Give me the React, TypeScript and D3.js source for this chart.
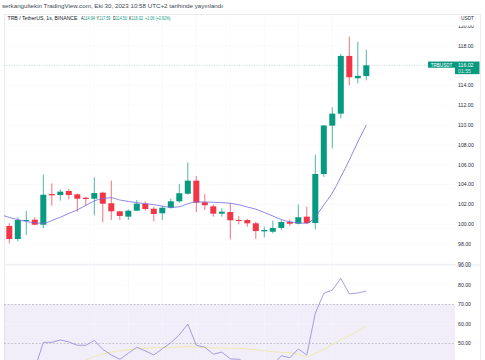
import React from "react";
import * as d3 from "d3";

// ---- DATA ----
const candleOpen = [99.83, 98.52, 100.33, 100.46, 99.96, 103.05, 102.95, 103.36, 103.02, 102.68, 102.58, 103.19, 102.12, 101.31, 100.77, 101.37, 102.08, 101.57, 101.11, 101.67, 102.32, 103.08, 104.40, 102.22, 101.81, 101.07, 101.24, 100.43, 100.43, 100.10, 99.29, 99.25, 99.63, 100.23, 100.06, 100.77, 100.13, 105.07, 109.94, 111.15, 116.97, 114.72, 114.94];
const candleHigh = [100.10, 100.71, 101.37, 100.71, 105.00, 104.13, 103.53, 103.59, 103.12, 102.78, 104.74, 103.29, 104.40, 101.37, 101.51, 102.45, 102.32, 101.77, 101.84, 102.58, 104.06, 106.25, 104.87, 103.05, 101.98, 101.61, 102.12, 100.84, 100.56, 100.26, 99.76, 100.36, 100.43, 100.50, 101.98, 101.77, 107.02, 110.00, 111.79, 117.17, 118.91, 118.38, 117.59];
const candleLow = [98.08, 98.29, 98.92, 99.90, 99.60, 101.88, 102.38, 102.52, 101.27, 101.85, 100.91, 100.20, 100.43, 100.43, 100.43, 101.37, 101.37, 100.30, 100.43, 101.57, 102.18, 102.98, 101.24, 101.44, 100.77, 100.77, 98.49, 100.00, 99.76, 98.52, 98.69, 99.09, 99.43, 99.83, 100.00, 100.03, 99.50, 104.77, 107.66, 110.69, 114.01, 114.21, 114.50];
const candleClose = [98.52, 100.43, 100.43, 99.96, 102.98, 102.92, 103.29, 102.95, 102.58, 102.55, 103.15, 102.08, 101.31, 100.84, 101.37, 102.08, 101.54, 101.04, 101.67, 102.32, 103.13, 104.40, 102.18, 101.92, 101.07, 101.27, 100.40, 100.33, 100.10, 99.32, 99.43, 99.63, 100.23, 100.06, 100.71, 100.13, 105.07, 109.96, 111.15, 116.97, 114.82, 114.96, 116.02];

// moving average, first value belongs to bar index -1 (off the left edge)
const maStartIndex = -1;
const maValues = [100.99, 100.69, 100.48, 100.28, 100.15, 100.10, 100.38, 100.71, 101.09, 101.46, 101.90, 102.35, 102.60, 102.67, 102.45, 102.30, 102.18, 102.08, 101.98, 101.84, 101.71, 101.77, 102.07, 102.25, 102.25, 102.22, 102.18, 102.12, 101.97, 101.74, 101.52, 101.19, 100.84, 100.48, 100.26, 100.15, 100.10, 100.79, 101.95, 103.16, 104.77, 106.48, 108.30, 110.01];

const rsiValues = [32, 38, 39, 37, 50.6, 50.6, 51.8, 50.8, 49.1, 49.1, 51.6, 47.0, 44.1, 41.9, 45.0, 48.1, 46.2, 44.1, 47.3, 50.4, 54.4, 60.0, 49.1, 48.1, 44.5, 45.6, 42.1, 41.9, 40, 36, 36, 39, 43.7, 42.7, 47.2, 44.1, 65.5, 75.7, 77.4, 83.4, 75.4, 75.9, 76.9];
const rsiMaStartIndex = 8;
const rsiMaValues = [38, 41.3, 43.3, 44.6, 45.6, 46.3, 46.8, 47.2, 47.6, 47.8, 48.0, 48.1, 48.2, 48.4, 48.2, 47.9, 47.8, 47.7, 47.6, 47.5, 47.2, 46.8, 46.3, 45.8, 45.5, 45.2, 44.6, 43.2, 44.9, 46.9, 49.5, 51.8, 54.1, 56.4, 59.0];

const priceTicks = [96, 98, 100, 102, 104, 106, 108, 110, 112, 114, 116, 118, 120];
const rsiTicks = [90, 80, 70, 60, 50];
const rsiBands = [70, 50, 30];

const titleText = "serkangultekin TradingView.com, Eki 30, 2023 10:58 UTC+2 tarihinde yayınlandı";
const symbolText = "TRB / TetherUS, 1s, BINANCE";
const ohlcLabels = ["A", "Y", "D", "K"];
const ohlcTexts = ["114.94", "117.59", "114.50", "116.02"];
const changeText = "+1.06 (+0.92%)";
const lastPrice = 116.02;
const lastPriceText = "116.02";
const countdownText = "01:55";
const tickerText = "TRBUSDT";
const currencyText = "USDT";

const UP = "#089981";
const DOWN = "#f23645";
const FONT = "'Liberation Sans', Arial, sans-serif";

export default function App() {
  const frameL = 4, frameR = 480, frameT = 14, paneSplit = 265, plotR = 455, H = 360;
  const x = d3.scaleLinear().domain([0, 42]).range([9.3, 366.3]);
  const y = d3.scaleLinear().domain([100, 118]).range([224.3, 45.7]);
  const yr = d3.scaleLinear().domain([50, 80]).range([343.5, 285]);
  const bodyW = 6;

  const maLine = d3
    .line<number>()
    .x((_, i) => x(i + maStartIndex))
    .y((d) => y(d))
    .curve(d3.curveMonotoneX)(maValues) as string;
  const rsiLine = d3
    .line<number>()
    .x((_, i) => x(i))
    .y((d) => yr(d))(rsiValues) as string;
  const rsiMaLine = d3
    .line<number>()
    .x((_, i) => x(i + rsiMaStartIndex))
    .y((d) => yr(d))
    .curve(d3.curveMonotoneX)(rsiMaValues) as string;

  // header x positions
  const ohlcX = [81, 96.5, 113, 129];

  return (
    <svg
      width={485}
      height={360}
      style={{ position: "absolute", left: 0, top: 0, background: "#fff" }}
      fontFamily={FONT}
    >
      <defs>
        <clipPath id="mainClip">
          <rect x={frameL} y={frameT} width={plotR - frameL} height={paneSplit - frameT} />
        </clipPath>
        <clipPath id="rsiClip">
          <rect x={frameL} y={paneSplit} width={plotR - frameL} height={H - paneSplit} />
        </clipPath>
        <clipPath id="mainAxisClip">
          <rect x={plotR} y={25.5} width={frameR - plotR} height={paneSplit - 25.5} />
        </clipPath>
        <clipPath id="rsiAxisClip">
          <rect x={plotR} y={paneSplit} width={frameR - plotR} height={H - paneSplit} />
        </clipPath>
      </defs>
      <rect x={0} y={0} width={485} height={360} fill="#fff" />

      {/* title */}
      <text x={2} y={8.4} fontSize={6} fill="#434651" textLength={221} lengthAdjust="spacingAndGlyphs">{titleText}</text>

      {/* frame */}
      <rect x={frameL + 0.5} y={frameT + 0.5} width={frameR - frameL} height={H} fill="none" stroke="#e6e8ee" strokeWidth={0.8} />

      {/* main pane grid */}
      <g clipPath="url(#mainClip)">
        {priceTicks.map((t) => (
          <line key={t} x1={frameL} x2={plotR} y1={y(t)} y2={y(t)} stroke="#f5f6f9" strokeWidth={0.6} />
        ))}
        {[10, 14, 18, 22, 26, 30, 34, 38].map((i) => (
          <line key={i} x1={x(i)} x2={x(i)} y1={frameT} y2={paneSplit} stroke="#f6f7f9" strokeWidth={0.6} />
        ))}
        {/* last price line */}
        <line x1={frameL} x2={plotR} y1={y(lastPrice)} y2={y(lastPrice)} stroke="#9fcfc6" strokeWidth={0.6} strokeDasharray="1,1.5" />
        {/* candles */}
        {candleOpen.map((o, i) => {
          const c = candleClose[i];
          const col = c >= o ? UP : DOWN;
          const top = y(Math.max(o, c));
          const bot = y(Math.min(o, c));
          return (
            <g key={i}>
              <line x1={x(i)} x2={x(i)} y1={y(candleHigh[i])} y2={y(candleLow[i])} stroke={col} strokeWidth={0.7} />
              <rect x={x(i) - bodyW / 2} y={top} width={bodyW} height={Math.max(bot - top, 0.9)} fill={col} />
            </g>
          );
        })}
        <path d={maLine} fill="none" stroke="#7469e0" strokeWidth={0.8} />
      </g>

      {/* header legend */}
      <text x={7.5} y={20.3} fontSize={5} fill="#131722" textLength={70} lengthAdjust="spacingAndGlyphs">{symbolText}</text>
      {ohlcLabels.map((l, i) => (
        <text key={l} x={ohlcX[i]} y={20.3} fontSize={4.6} fill="#131722" textLength={14} lengthAdjust="spacingAndGlyphs">
          {l}
          <tspan fill={UP}>{ohlcTexts[i]}</tspan>
        </text>
      ))}
      <text x={145} y={20.3} fontSize={4.6} fill={UP} textLength={25.5} lengthAdjust="spacingAndGlyphs">{changeText}</text>

      {/* pane separator */}
      <line x1={frameL} x2={frameR} y1={paneSplit} y2={paneSplit} stroke="#e0e3eb" strokeWidth={0.8} />

      {/* RSI pane */}
      <g clipPath="url(#rsiClip)">
        <rect x={frameL} y={yr(70)} width={plotR - frameL} height={H - yr(70)} fill="rgba(126,87,194,0.1)" />
        {rsiTicks.map((t) => (
          <line key={t} x1={frameL} x2={plotR} y1={yr(t)} y2={yr(t)} stroke="#f5f6f9" strokeWidth={0.6} />
        ))}
        {[10, 14, 18, 22, 26, 30, 34, 38].map((i) => (
          <line key={i} x1={x(i)} x2={x(i)} y1={paneSplit} y2={H} stroke="#f3f3f8" strokeWidth={0.6} />
        ))}
        {rsiBands.map((b) => (
          <line key={b} x1={frameL} x2={plotR} y1={yr(b)} y2={yr(b)} stroke="#a3a6af" strokeWidth={0.6} strokeDasharray="2,1.5" />
        ))}
        <path d={rsiMaLine} fill="none" stroke="#efe7a6" strokeWidth={0.9} />
        <path d={rsiLine} fill="none" stroke="#9187d6" strokeWidth={0.8} />
      </g>

      {/* price axis */}
      <g clipPath="url(#mainAxisClip)">
        {priceTicks.map((t) => (
          <text key={t} x={458} y={y(t) + 1.8} fontSize={5.2} fill="#2a2e39">{t.toFixed(2)}</text>
        ))}
      </g>
      <g clipPath="url(#rsiAxisClip)">
        {rsiTicks.map((t) => (
          <text key={t} x={458} y={yr(t) + 1.8} fontSize={5.2} fill="#2a2e39">{t.toFixed(2)}</text>
        ))}
      </g>

      {/* currency label */}
      <rect x={459.5} y={14.5} width={16} height={7} fill="#fff" stroke="#e0e3eb" strokeWidth={0.5} rx={1} />
      <text x={467.5} y={19.7} fontSize={4.8} fill="#2a2e39" textAnchor="middle">{currencyText}</text>

      {/* last price labels */}
      <rect x={428} y={y(lastPrice) - 3.8} width={27} height={6.2} fill={UP} />
      <text x={441.5} y={y(lastPrice) + 1.4} fontSize={4.6} fill="#fff" textAnchor="middle">{tickerText}</text>
      <rect x={455} y={y(lastPrice) - 3.8} width={24.5} height={12.6} fill={UP} />
      <text x={458} y={y(lastPrice) + 1.6} fontSize={5.2} fill="#fff">{lastPriceText}</text>
      <text x={458} y={y(lastPrice) + 7.4} fontSize={5.2} fill="#d8f0ea">{countdownText}</text>
    </svg>
  );
}
